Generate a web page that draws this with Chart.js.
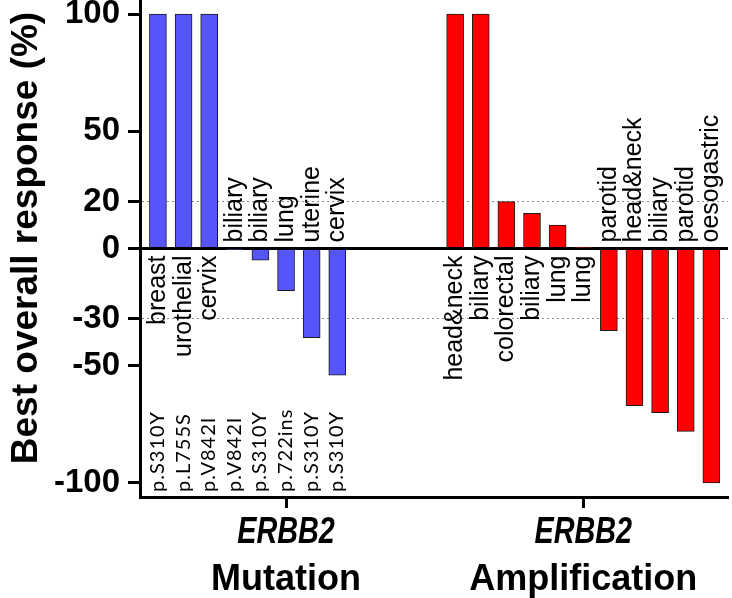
<!DOCTYPE html>
<html>
<head>
<meta charset="utf-8">
<script src="https://cdn.jsdelivr.net/npm/chart.js@4.4.1/dist/chart.umd.min.js"></script>
<style>
  html, body { margin: 0; padding: 0; background: #fff; }
  #wrap { width: 732px; height: 598px; position: relative; }
</style>
</head>
<body>
<div id="wrap"><canvas id="waterfall"></canvas></div>
<script>
// --- data ---
const mutTypes = ['breast', 'urothelial', 'cervix', 'biliary', 'biliary', 'lung', 'uterine', 'cervix'];
const mutVariants = ['p.S310Y', 'p.L755S', 'p.V842I', 'p.V842I', 'p.S310Y', 'p.722ins', 'p.S310Y', 'p.S310Y'];
const mutValues = [100, 100, 100, -0.5, -5, -18, -38, -54];

const ampTypes = ['head&neck', 'biliary', 'colorectal', 'biliary', 'lung', 'lung', 'parotid', 'head&neck', 'biliary', 'parotid', 'oesogastric'];
const ampValues = [100, 100, 20, 15, 10, 0.5, -35, -67, -70, -78, -100];

const yTicks = [100, 50, 20, 0, -30, -50, -100];
const geneName = 'ERBB2';
const groupNames = ['Mutation', 'Amplification'];

// each group takes 11 slots on the x axis, second group starts a bit after the first
const slotsPerGroup = 11;
const groupStart = [0, 11.6];

const SANS = '"Liberation Sans", Arial, sans-serif';

const labelPlugin = {
    id: 'barLabels',
    afterDatasetsDraw(chart) {
        const ctx = chart.ctx;
        const y0 = chart.scales.y.getPixelForValue(0);
        const bottom = chart.chartArea.bottom;
        const groups = [[mutTypes, mutValues, mutVariants], [ampTypes, ampValues, null]];

        groups.forEach(([types, vals, variants], d) => {
            chart.getDatasetMeta(d).data.forEach((bar, i) => {
                const up = vals[i] < 0;
                // tumour type, on the other side of the zero line
                ctx.save();
                ctx.translate(bar.x + 7, up ? y0 - 6 : y0 + 7);
                ctx.rotate(-Math.PI / 2);
                ctx.font = '25px ' + SANS;
                ctx.fillStyle = '#000';
                ctx.textBaseline = 'alphabetic';
                ctx.textAlign = up ? 'left' : 'right';
                ctx.fillText(types[i], 0, 0);
                ctx.restore();

                // variant at the bottom of the plot
                if (variants) {
                    ctx.save();
                    ctx.translate(bar.x + 6, bottom - 5);
                    ctx.rotate(-Math.PI / 2);
                    ctx.font = '20px Lato, sans-serif';
                    ctx.letterSpacing = '1px';
                    ctx.fillStyle = '#000';
                    ctx.textAlign = 'left';
                    ctx.fillText(variants[i], 0, 0);
                    ctx.restore();
                }
            });
        });

        // group names under the x axis
        const xs = chart.scales.x;
        groupNames.forEach((name, g) => {
            const cx = xs.getPixelForValue(groupStart[g] + (slotsPerGroup - 1) / 2);
            ctx.save();
            ctx.fillStyle = '#000';
            ctx.textAlign = 'center';
            ctx.font = 'italic bold 36px ' + SANS;
            ctx.translate(cx, 543);
            ctx.scale(0.8, 1);
            ctx.fillText(geneName, 0, 0);
            ctx.restore();

            ctx.save();
            ctx.fillStyle = '#000';
            ctx.textAlign = 'center';
            ctx.font = 'bold 36px ' + SANS;
            ctx.fillText(name, cx, 590);
            ctx.restore();
        });

        // y axis title
        ctx.save();
        ctx.translate(37, 238);
        ctx.rotate(-Math.PI / 2);
        ctx.font = 'bold 37px ' + SANS;
        ctx.fillStyle = '#000';
        ctx.textAlign = 'center';
        ctx.fillText('Best overall response (%)', 0, 0);
        ctx.restore();
    }
};

const ctx = document.getElementById('waterfall').getContext('2d');

new Chart(ctx, {
    type: 'bar',
    data: {
        datasets: [
            {
                label: groupNames[0],
                data: mutValues.map((v, i) => ({ x: groupStart[0] + i, y: v })),
                backgroundColor: '#5555fb',
                borderColor: '#1a1a1a',
                borderWidth: 1,
                grouped: false,
                barThickness: 17
            },
            {
                label: groupNames[1],
                data: ampValues.map((v, i) => ({ x: groupStart[1] + i, y: v })),
                backgroundColor: '#ff0000',
                borderColor: '#1a1a1a',
                borderWidth: 1,
                grouped: false,
                barThickness: 17
            }
        ]
    },
    options: {
        responsive: true,
        maintainAspectRatio: false,
        animation: false,
        layout: { padding: { top: 0, left: 0, right: 4, bottom: 0 } },
        plugins: {
            legend: { display: false },
            tooltip: { enabled: false }
        },
        scales: {
            x: {
                type: 'linear',
                offset: false,
                min: -0.7,
                max: 22.25,
                afterBuildTicks: s => { s.ticks = groupStart.map(g => ({ value: g + (slotsPerGroup - 1) / 2 })); },
                afterFit: s => { s.height = 101; s.paddingLeft = 0; s.paddingRight = 0; },
                ticks: { display: false },
                grid: {
                    offset: false,
                    drawOnChartArea: false,
                    drawTicks: true,
                    tickLength: 11,
                    tickWidth: 3,
                    tickColor: '#000'
                },
                border: { display: true, color: '#000', width: 3 }
            },
            y: {
                min: -106,
                max: 106,
                afterBuildTicks: s => { s.ticks = yTicks.map(v => ({ value: v })); },
                afterFit: s => { s.width = 140; s.paddingTop = 0; s.paddingBottom = 0; },
                ticks: {
                    color: '#000',
                    padding: 8,
                    font: { family: SANS, size: 33, weight: 'bold' }
                },
                grid: {
                    color: c => c.tick.value === 0 ? '#000' : ((c.tick.value === 20 || c.tick.value === -30) ? '#8a8a8a' : 'rgba(0,0,0,0)'),
                    lineWidth: c => c.tick.value === 0 ? 3 : 1,
                    tickLength: 12,
                    tickWidth: 3,
                    tickColor: '#000'
                },
                border: {
                    color: '#000',
                    width: 3,
                    dash: c => (c.tick && c.tick.value === 0) ? [] : [2, 3]
                }
            }
        }
    },
    plugins: [labelPlugin]
});
</script>
</body>
</html>
